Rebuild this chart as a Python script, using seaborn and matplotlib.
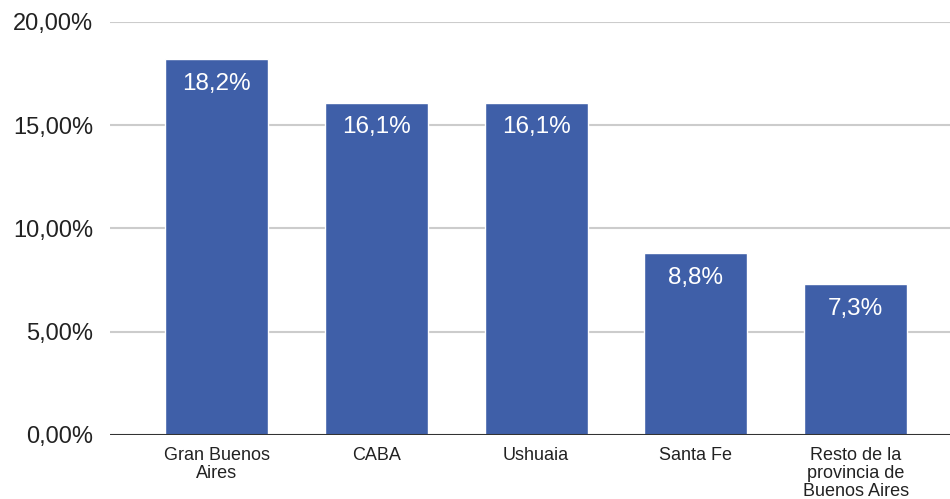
import matplotlib
matplotlib.use("Agg")
import matplotlib.pyplot as plt
import seaborn as sns
import pandas as pd

# Chart data
regions = ["Gran Buenos\nAires", "CABA", "Ushuaia", "Santa Fe",
           "Resto de la\nprovincia de\nBuenos Aires"]
values = [18.2, 16.1, 16.1, 8.8, 7.3]
bar_labels = ["18,2%", "16,1%", "16,1%", "8,8%", "7,3%"]
y_ticks = [0, 5, 10, 15, 20]
y_tick_labels = ["0,00%", "5,00%", "10,00%", "15,00%", "20,00%"]

df = pd.DataFrame({"region": regions, "value": values})

sns.set_style("white")
plt.rcParams["font.family"] = ["Liberation Sans", "DejaVu Sans"]

fig = plt.figure(figsize=(9.5, 4.99), dpi=100)
ax = fig.add_axes([110 / 950, 64 / 499, 840 / 950, 413 / 499])

sns.barplot(data=df, x="region", y="value", color="#3f5fa8",
            saturation=1, width=0.645, ax=ax, zorder=3)

# value labels inside the top of each bar
for patch, lab in zip(ax.patches, bar_labels):
    ax.text(patch.get_x() + patch.get_width() / 2, patch.get_height() - 0.65,
            lab, ha="center", va="top", color="white", fontsize=17.5, zorder=4)

ax.set_ylim(0, 20)
ax.set_xlim(-0.667, 4.59)
ax.set_yticks(y_ticks)
ax.set_yticklabels(y_tick_labels, fontsize=17, color="#222222")
ax.tick_params(axis="y", length=0, pad=12)
ax.tick_params(axis="x", length=0, pad=9, labelsize=13, labelcolor="#222222")
for t in ax.get_xticklabels():
    t.set_linespacing(1.05)

ax.grid(axis="y", color="#cccccc", linewidth=1.5, zorder=0)
ax.axhline(0, color="#333333", linewidth=2.2, zorder=5)
ax.set_xlabel("")
ax.set_ylabel("")
for s in ax.spines.values():
    s.set_visible(False)

fig.savefig("out.png", dpi=100)
